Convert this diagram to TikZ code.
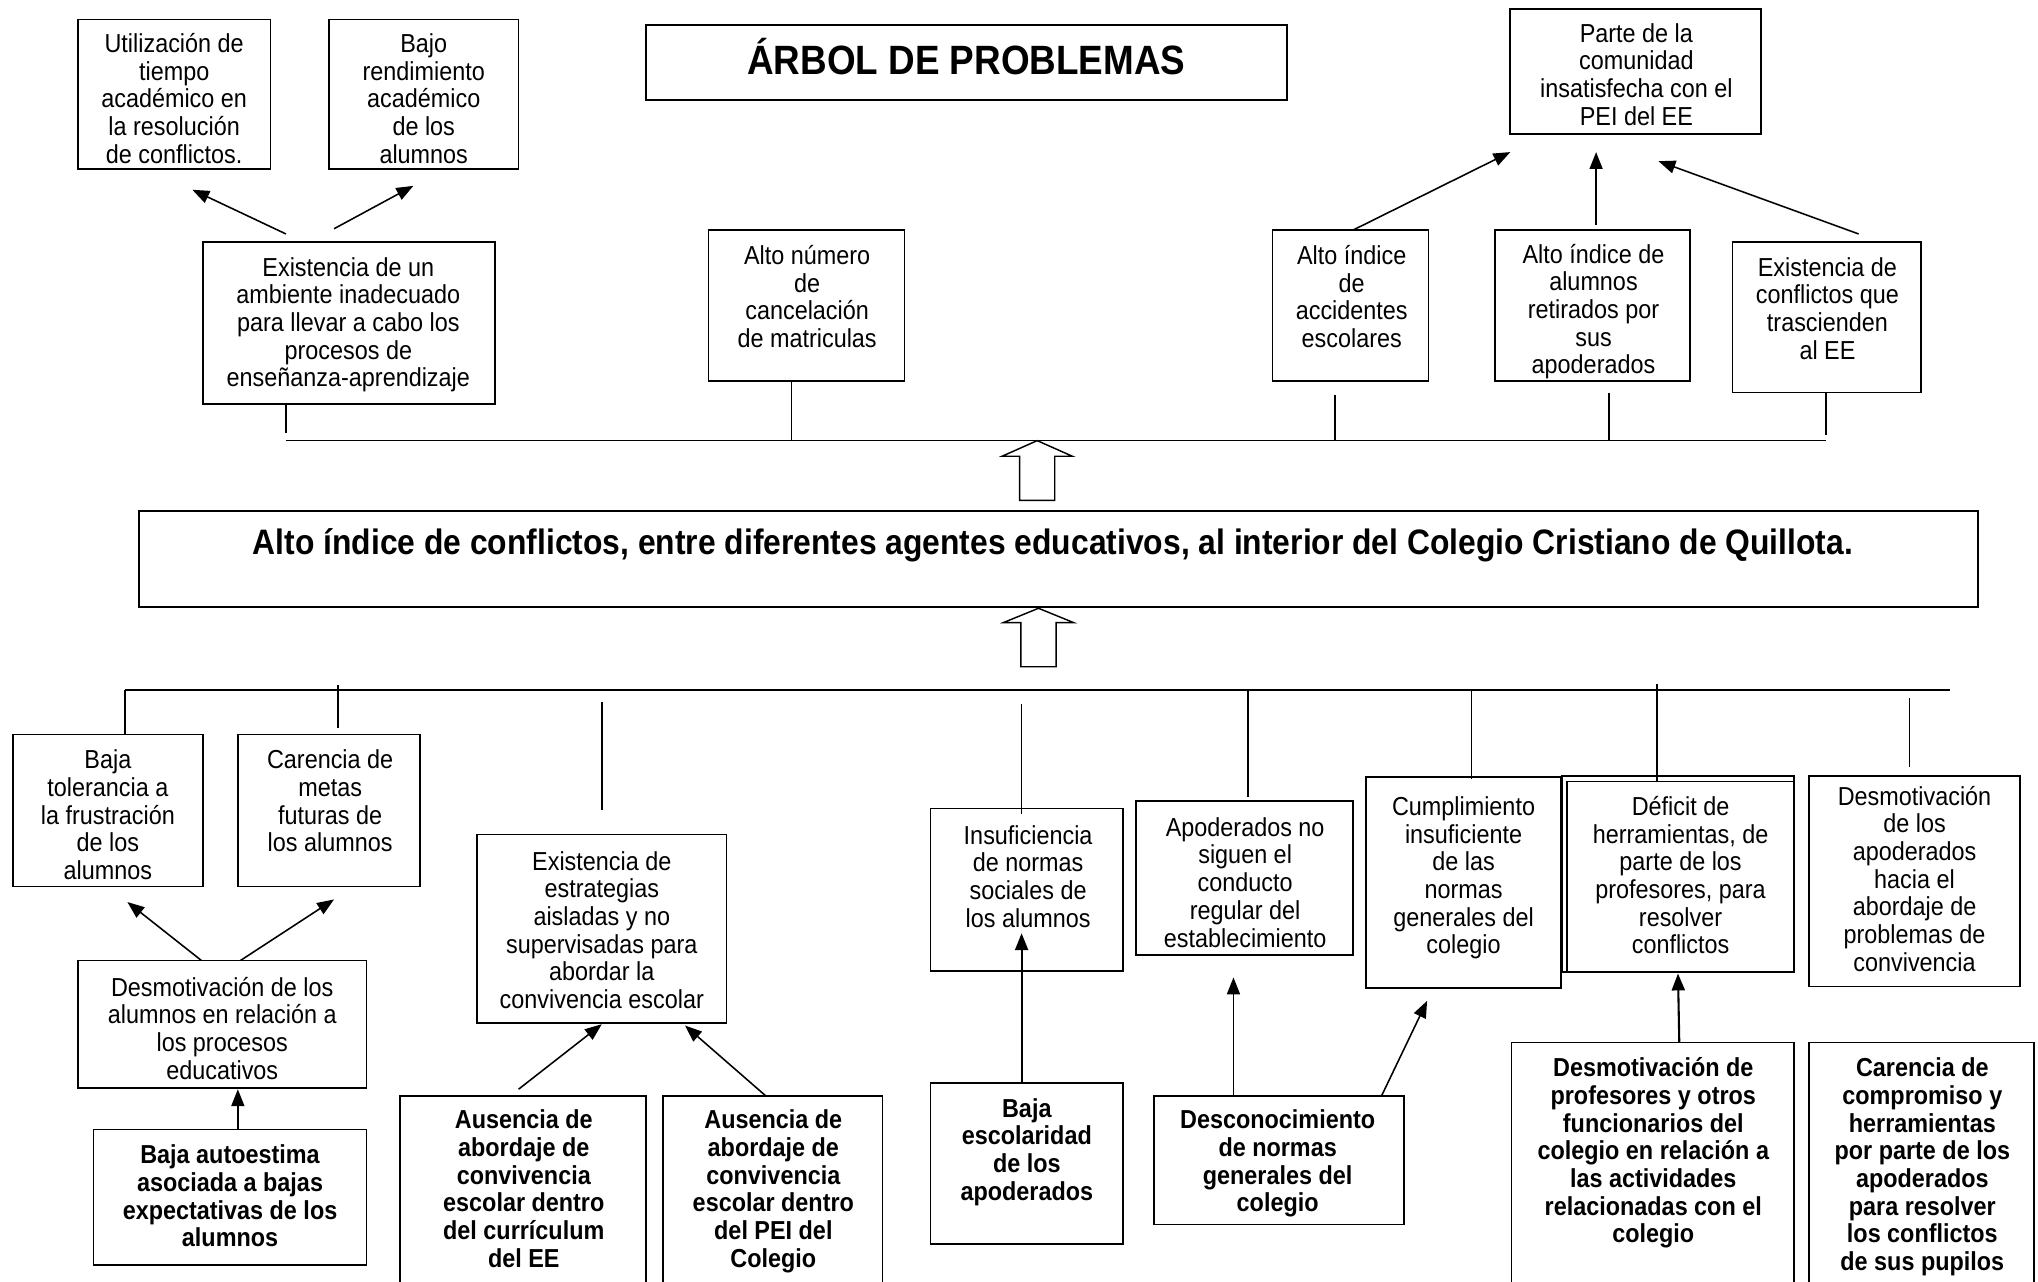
\documentclass[tikz,border=0pt]{standalone}
\usepackage{fontspec}
\setmainfont{Liberation Sans}[FakeStretch=0.9]
\usetikzlibrary{calc,arrows.meta}
\tikzset{
  bx/.style={draw, line width=1.3pt, inner sep=0pt, outer sep=0pt},
  tx/.style={anchor=north, align=center, inner sep=0pt, font=\fontsize{20}{21.3}\selectfont},
  txb/.style={anchor=north, align=center, inner sep=0pt, font=\fontsize{20}{21.3}\selectfont\bfseries},
  ln/.style={line width=1.2pt},
  arr/.style={line width=1.2pt, -{Triangle[length=13pt,width=10pt]}},
  hol/.style={line width=1.1pt, fill=white, line join=miter},
}
\newcommand{\mkbox}[5]{\node[bx, minimum width={(#4-#2)*1pt}, minimum height={(#5-#3)*1pt}] (#1) at ({(#2+#4)/2},{(#3+#5)/2}) {};}
\newcommand{\mktxt}[5][tx]{\node[#1] (#2t) at (#3,{#4-7.7}) {\strut #5};}
\begin{document}
\begin{tikzpicture}[x=1pt,y=-1pt]
\useasboundingbox (0,0) rectangle (1568,986);
\clip (0,0) rectangle (1568,986);
% ---------- boxes ----------
\mkbox{util}{60}{15}{208}{130}
\mkbox{bajo}{253}{15}{399}{130}
\mkbox{title}{497}{19}{990}{77}
\mkbox{parte}{1162}{7}{1355}{103}
\mkbox{amb}{156}{186}{381}{311}
\mkbox{altonum}{545}{177}{696}{293}
\mkbox{accid}{979}{177}{1099}{293}
\mkbox{retir}{1150}{177}{1300}{293}
\mkbox{trasc}{1333}{186}{1478}{302}
\mkbox{main}{107}{393}{1522}{467}
\mkbox{tol}{10}{565}{156}{682}
\mkbox{metas}{183}{565}{323}{682}
\mkbox{estr}{367}{642}{559}{787}
\mkbox{insuf}{716}{622}{864}{747}
\mkbox{apod}{874}{616}{1041}{735}
\mkbox{cumpl}{1051}{598}{1201}{760}
\mkbox{defic}{1202}{597}{1380}{748}
\draw[line width=1pt] ($(defic.south west)+(3.5,0)$) -- ($(defic.north west)+(3.5,4)$) -- ($(defic.north east)+(0,4)$);
\mkbox{desapo}{1392}{597}{1554}{759}
\mkbox{desalu}{60}{739}{282}{837}
\mkbox{autoe}{72}{869}{282}{973}
\mkbox{auscur}{308}{843}{497}{1000}
\mkbox{auspei}{510}{843}{679}{1000}
\mkbox{escol}{716}{833}{864}{957}
\mkbox{descon}{888}{843}{1080}{942}
\mkbox{desprof}{1163}{802}{1380}{1000}
\mkbox{carcomp}{1392}{802}{1565}{1000}
% ---------- texts ----------
\mktxt{util}{134}{33}{Utilización de\\tiempo\\académico en\\la resolución\\de conflictos.}
\mktxt{bajo}{326}{33}{Bajo\\rendimiento\\académico\\de los\\alumnos}
\node[anchor=north, inner sep=0pt, font=\fontsize{31.5}{36}\selectfont\bfseries] (titlet) at (743.5,{45-15.5}) {\strut ÁRBOL DE PROBLEMAS};
\mktxt{parte}{1259}{25}{Parte de la\\comunidad\\insatisfecha con el\\PEI del EE}
\mktxt{amb}{268}{205}{Existencia de un\\ambiente inadecuado\\para llevar a cabo los\\procesos de\\enseñanza-aprendizaje}
\mktxt{altonum}{621}{196}{Alto número\\de\\cancelación\\de matriculas}
\mktxt{accid}{1040}{196}{Alto índice\\de\\accidentes\\escolares}
\mktxt{retir}{1226}{195}{Alto índice de\\alumnos\\retirados por\\sus\\apoderados}
\mktxt{trasc}{1406}{205}{Existencia de\\conflictos que\\trascienden\\al EE}
\node[anchor=north, inner sep=0pt, font=\fontsize{27.2}{31}\selectfont\bfseries] (maint) at (810,{417-12}) {\strut Alto índice de conflictos, entre diferentes agentes educativos, al interior del Colegio Cristiano de Quillota.};
\mktxt{tol}{83}{584}{Baja\\tolerancia a\\la frustración\\de los\\alumnos}
\mktxt{metas}{254}{584}{Carencia de\\metas\\futuras de\\los alumnos}
\mktxt{estr}{463}{662}{Existencia de\\estrategias\\aisladas y no\\supervisadas para\\abordar la\\convivencia escolar}
\mktxt{insuf}{791}{642}{Insuficiencia\\de normas\\sociales de\\los alumnos}
\mktxt{apod}{958}{636}{Apoderados no\\siguen el\\conducto\\regular del\\establecimiento}
\mktxt{cumpl}{1126}{620}{Cumplimiento\\insuficiente\\de las\\normas\\generales del\\colegio}
\mktxt{defic}{1293}{620}{Déficit de\\herramientas, de\\parte de los\\profesores, para\\resolver\\conflictos}
\mktxt{desapo}{1473}{612}{Desmotivación\\de los\\apoderados\\hacia el\\abordaje de\\problemas de\\convivencia}
\mktxt{desalu}{171}{759}{Desmotivación de los\\alumnos en relación a\\los procesos\\educativos}
\mktxt[txb]{autoe}{177}{888}{Baja autoestima\\asociada a bajas\\expectativas de los\\alumnos}
\mktxt[txb]{auscur}{403}{861}{Ausencia de\\abordaje de\\convivencia\\escolar dentro\\del currículum\\del EE}
\mktxt[txb]{auspei}{595}{861}{Ausencia de\\abordaje de\\convivencia\\escolar dentro\\del PEI del\\Colegio}
\mktxt[txb]{escol}{790}{852}{Baja\\escolaridad\\de los\\apoderados}
\mktxt[txb]{descon}{983}{861}{Desconocimiento\\de normas\\generales del\\colegio}
\mktxt[txb]{desprof}{1272}{821}{Desmotivación de\\profesores y otros\\funcionarios del\\colegio en relación a\\las actividades\\relacionadas con el\\colegio}
\mktxt[txb]{carcomp}{1479}{821}{Carencia de\\compromiso y\\herramientas\\por parte de los\\apoderados\\para resolver\\los conflictos\\de sus pupilos}
% ---------- top tree ----------
\coordinate (tl) at (220,339);
\coordinate (tr) at (1405,339);
\draw[ln] (tl) -- (tr);
\draw[ln] ($(amb.south west)+(64,0)$) -- ++(0,22);
\draw[ln] ($(altonum.south west)+(64,0)$) -- ($(altonum.south west)+(64,46)$);
\draw[ln] ($(accid.south west)+(48,11)$) -- ($(accid.south west)+(48,46)$);
\draw[ln] ($(retir.south west)+(88,9)$) -- ($(retir.south west)+(88,46)$);
\draw[ln] ($(trasc.south west)+(72,0)$) -- ++(0,33);
% hollow arrows
\coordinate (ha1) at (798,339);
\draw[hol] (ha1) -- ++(27,12) -- ++(-13.5,0) -- ++(0,34) -- ++(-27,0) -- ++(0,-34) -- ++(-13.5,0) -- cycle;
\coordinate (ha2) at (799,468);
\draw[hol] (ha2) -- ++(27,11) -- ++(-13.5,0) -- ++(0,34) -- ++(-27,0) -- ++(0,-34) -- ++(-13.5,0) -- cycle;
% ---------- top arrows ----------
\draw[arr] ($(amb.north west)+(64,-6)$) -- ($(util.south west)+(88,16)$);
\draw[arr] ($(amb.north west)+(101,-10)$) -- ($(bajo.south west)+(65,13)$);
\draw[arr] ($(accid.north west)+(62,0)$) -- ($(parte.south west)+(0,14)$);
\draw[arr] ($(retir.north west)+(78,-4)$) -- ($(parte.south west)+(66,14)$);
\draw[arr] ($(trasc.north west)+(97,-6)$) -- ($(parte.south west)+(114,21)$);
% ---------- bottom tree ----------
\coordinate (bl) at (96,531);
\coordinate (br) at (1500,531);
\draw[ln] (bl) -- (br);
\draw[ln] ($(tol.north west)+(86,0)$) -- (bl);
\draw[ln] ($(metas.north west)+(77,-5)$) -- ++(0,-33);
\draw[ln] ($(estr.north west)+(96,-19)$) -- ++(0,-83);
\draw[ln] ($(insuf.north west)+(70,4)$) -- ++(0,-84);
\draw[ln] ($(apod.north west)+(86,-3)$) -- ++(0,-83);
\draw[ln] ($(cumpl.north west)+(81,1)$) -- ++(0,-68);
\draw[ln] ($(defic.north west)+(73,5)$) -- ++(0,-76);
\draw[ln] ($(desapo.north west)+(77,-7)$) -- ++(0,-53);
% ---------- bottom arrows ----------
\draw[arr] ($(desalu.north west)+(95,0)$) -- ($(tol.south west)+(88,12)$);
\draw[arr] ($(desalu.north west)+(125,0)$) -- ($(metas.south west)+(74,10)$);
\draw[arr] ($(autoe.north west)+(111,0)$) -- ($(desalu.south west)+(123,1)$);
\draw[arr] ($(auscur.north west)+(91,-5)$) -- ($(estr.south west)+(96,1)$);
\draw[arr] ($(auspei.north west)+(79,0)$) -- ($(estr.south west)+(160,2)$);
\draw[arr, line width=1.6pt] ($(escol.north west)+(70,0)$) -- ($(insuf.north west)+(70,96)$);
\draw[arr] ($(descon.north west)+(61,0)$) -- ($(apod.south west)+(75,17)$);
\draw[arr] ($(descon.north west)+(175,0)$) -- ($(cumpl.south west)+(47,10)$);
\draw[arr, line width=1.6pt] ($(desprof.north west)+(129,0)$) -- ($(defic.south west)+(89,1)$);
\end{tikzpicture}
\end{document}
